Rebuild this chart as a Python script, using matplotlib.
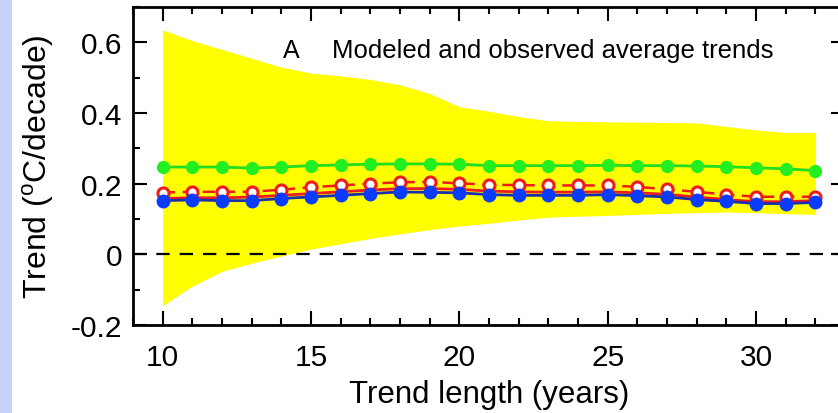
import matplotlib
matplotlib.use("Agg")
import matplotlib.pyplot as plt
import matplotlib.ticker as mticker
from matplotlib.patches import Rectangle

plt.rcParams["font.family"] = ["Liberation Sans", "DejaVu Sans"]

# ---------------------------------------------------------------------------
# Data
# ---------------------------------------------------------------------------
years = list(range(10, 33))

band_hi = [0.635, 0.605, 0.58, 0.555, 0.53, 0.513, 0.505, 0.495, 0.48, 0.455,
           0.418, 0.405, 0.39, 0.378, 0.376, 0.375, 0.374, 0.373, 0.372, 0.362,
           0.352, 0.345, 0.345]
band_lo = [-0.145, -0.09, -0.048, -0.025, -0.005, 0.015, 0.03, 0.045, 0.058, 0.07,
           0.08, 0.088, 0.097, 0.105, 0.108, 0.11, 0.113, 0.116, 0.118, 0.12,
           0.118, 0.115, 0.113]

green = [0.247, 0.247, 0.247, 0.244, 0.247, 0.251, 0.253, 0.255, 0.256, 0.256,
         0.255, 0.251, 0.251, 0.251, 0.251, 0.252, 0.251, 0.251, 0.250, 0.248,
         0.245, 0.242, 0.237]
red_dash = [0.175, 0.177, 0.177, 0.177, 0.183, 0.19, 0.195, 0.2, 0.204, 0.205,
            0.201, 0.197, 0.196, 0.195, 0.195, 0.195, 0.191, 0.184, 0.177, 0.169,
            0.163, 0.163, 0.163]
red_solid = [0.158, 0.16, 0.16, 0.162, 0.167, 0.172, 0.177, 0.182, 0.186, 0.186,
             0.184, 0.179, 0.177, 0.176, 0.176, 0.177, 0.174, 0.17, 0.162, 0.155,
             0.149, 0.149, 0.152]
blue = [0.152, 0.154, 0.152, 0.152, 0.158, 0.1625, 0.167, 0.172, 0.1765, 0.1755,
        0.174, 0.169, 0.167, 0.167, 0.167, 0.169, 0.166, 0.1625, 0.155, 0.150,
        0.1437, 0.1437, 0.147]

# ---------------------------------------------------------------------------
# Figure
# ---------------------------------------------------------------------------
fig = plt.figure(figsize=(8.38, 4.14), dpi=100)
fig.patch.set_facecolor("white")
fig.patches.append(Rectangle((0, 0), 12 / 838, 1, transform=fig.transFigure,
                             facecolor="#c6d4fb", edgecolor="none", zorder=0))

ax = fig.add_axes([133 / 838, 88 / 414, 712 / 838, 318 / 414])

ax.fill_between(years, band_lo, band_hi, color="#ffff00", lw=0, zorder=1)
ax.axhline(0, color="black", lw=1.6, ls=(0, (6, 4.5)), zorder=2)

ax.plot(years, green, color="#22dd22", lw=2, marker="o", ms=8.5,
        mfc="#22ee22", mec="#22ee22", zorder=3)
ax.plot(years, red_dash, color="#ee1c1c", lw=1.8, ls=(0, (5, 3)), marker="o",
        ms=8, mfc="white", mec="#ee1c1c", mew=2.2, zorder=4)
ax.plot(years, red_solid, color="#ee1c1c", lw=2, zorder=5)
ax.plot(years, blue, color="#1c2fa8", lw=2, marker="o", ms=9,
        mfc="#0a3cff", mec="#0a3cff", zorder=6)

ax.set_xlim(9, 33)
ax.set_ylim(-0.2, 0.7)
ax.xaxis.set_major_locator(mticker.MultipleLocator(5))
ax.xaxis.set_minor_locator(mticker.MultipleLocator(1))
ax.set_yticks([-0.2, 0, 0.2, 0.4, 0.6])
ax.set_yticklabels(["-0.2", "0", "0.2", "0.4", "0.6"])
ax.yaxis.set_minor_locator(mticker.MultipleLocator(0.1))

ax.tick_params(which="both", direction="in", top=True, right=True,
               width=1.5, labelsize=21.5)
ax.tick_params(axis="x", pad=13)
ax.tick_params(axis="y", pad=8)
ax.tick_params(which="major", length=10)
ax.tick_params(which="minor", length=5)
for sp in ax.spines.values():
    sp.set_linewidth(2)

ax.set_xlabel("Trend length (years)", fontsize=22.5, labelpad=6)
ax.set_ylabel("Trend ($^{\\mathregular{o}}$C/decade)", fontsize=23, labelpad=10)

ax.text(0.21, 0.865, "A", transform=ax.transAxes, fontsize=18, va="center")
ax.text(0.28, 0.865, "Modeled and observed average trends", transform=ax.transAxes,
        fontsize=18.5, va="center")

fig.savefig("out.png", dpi=100, facecolor="white")
